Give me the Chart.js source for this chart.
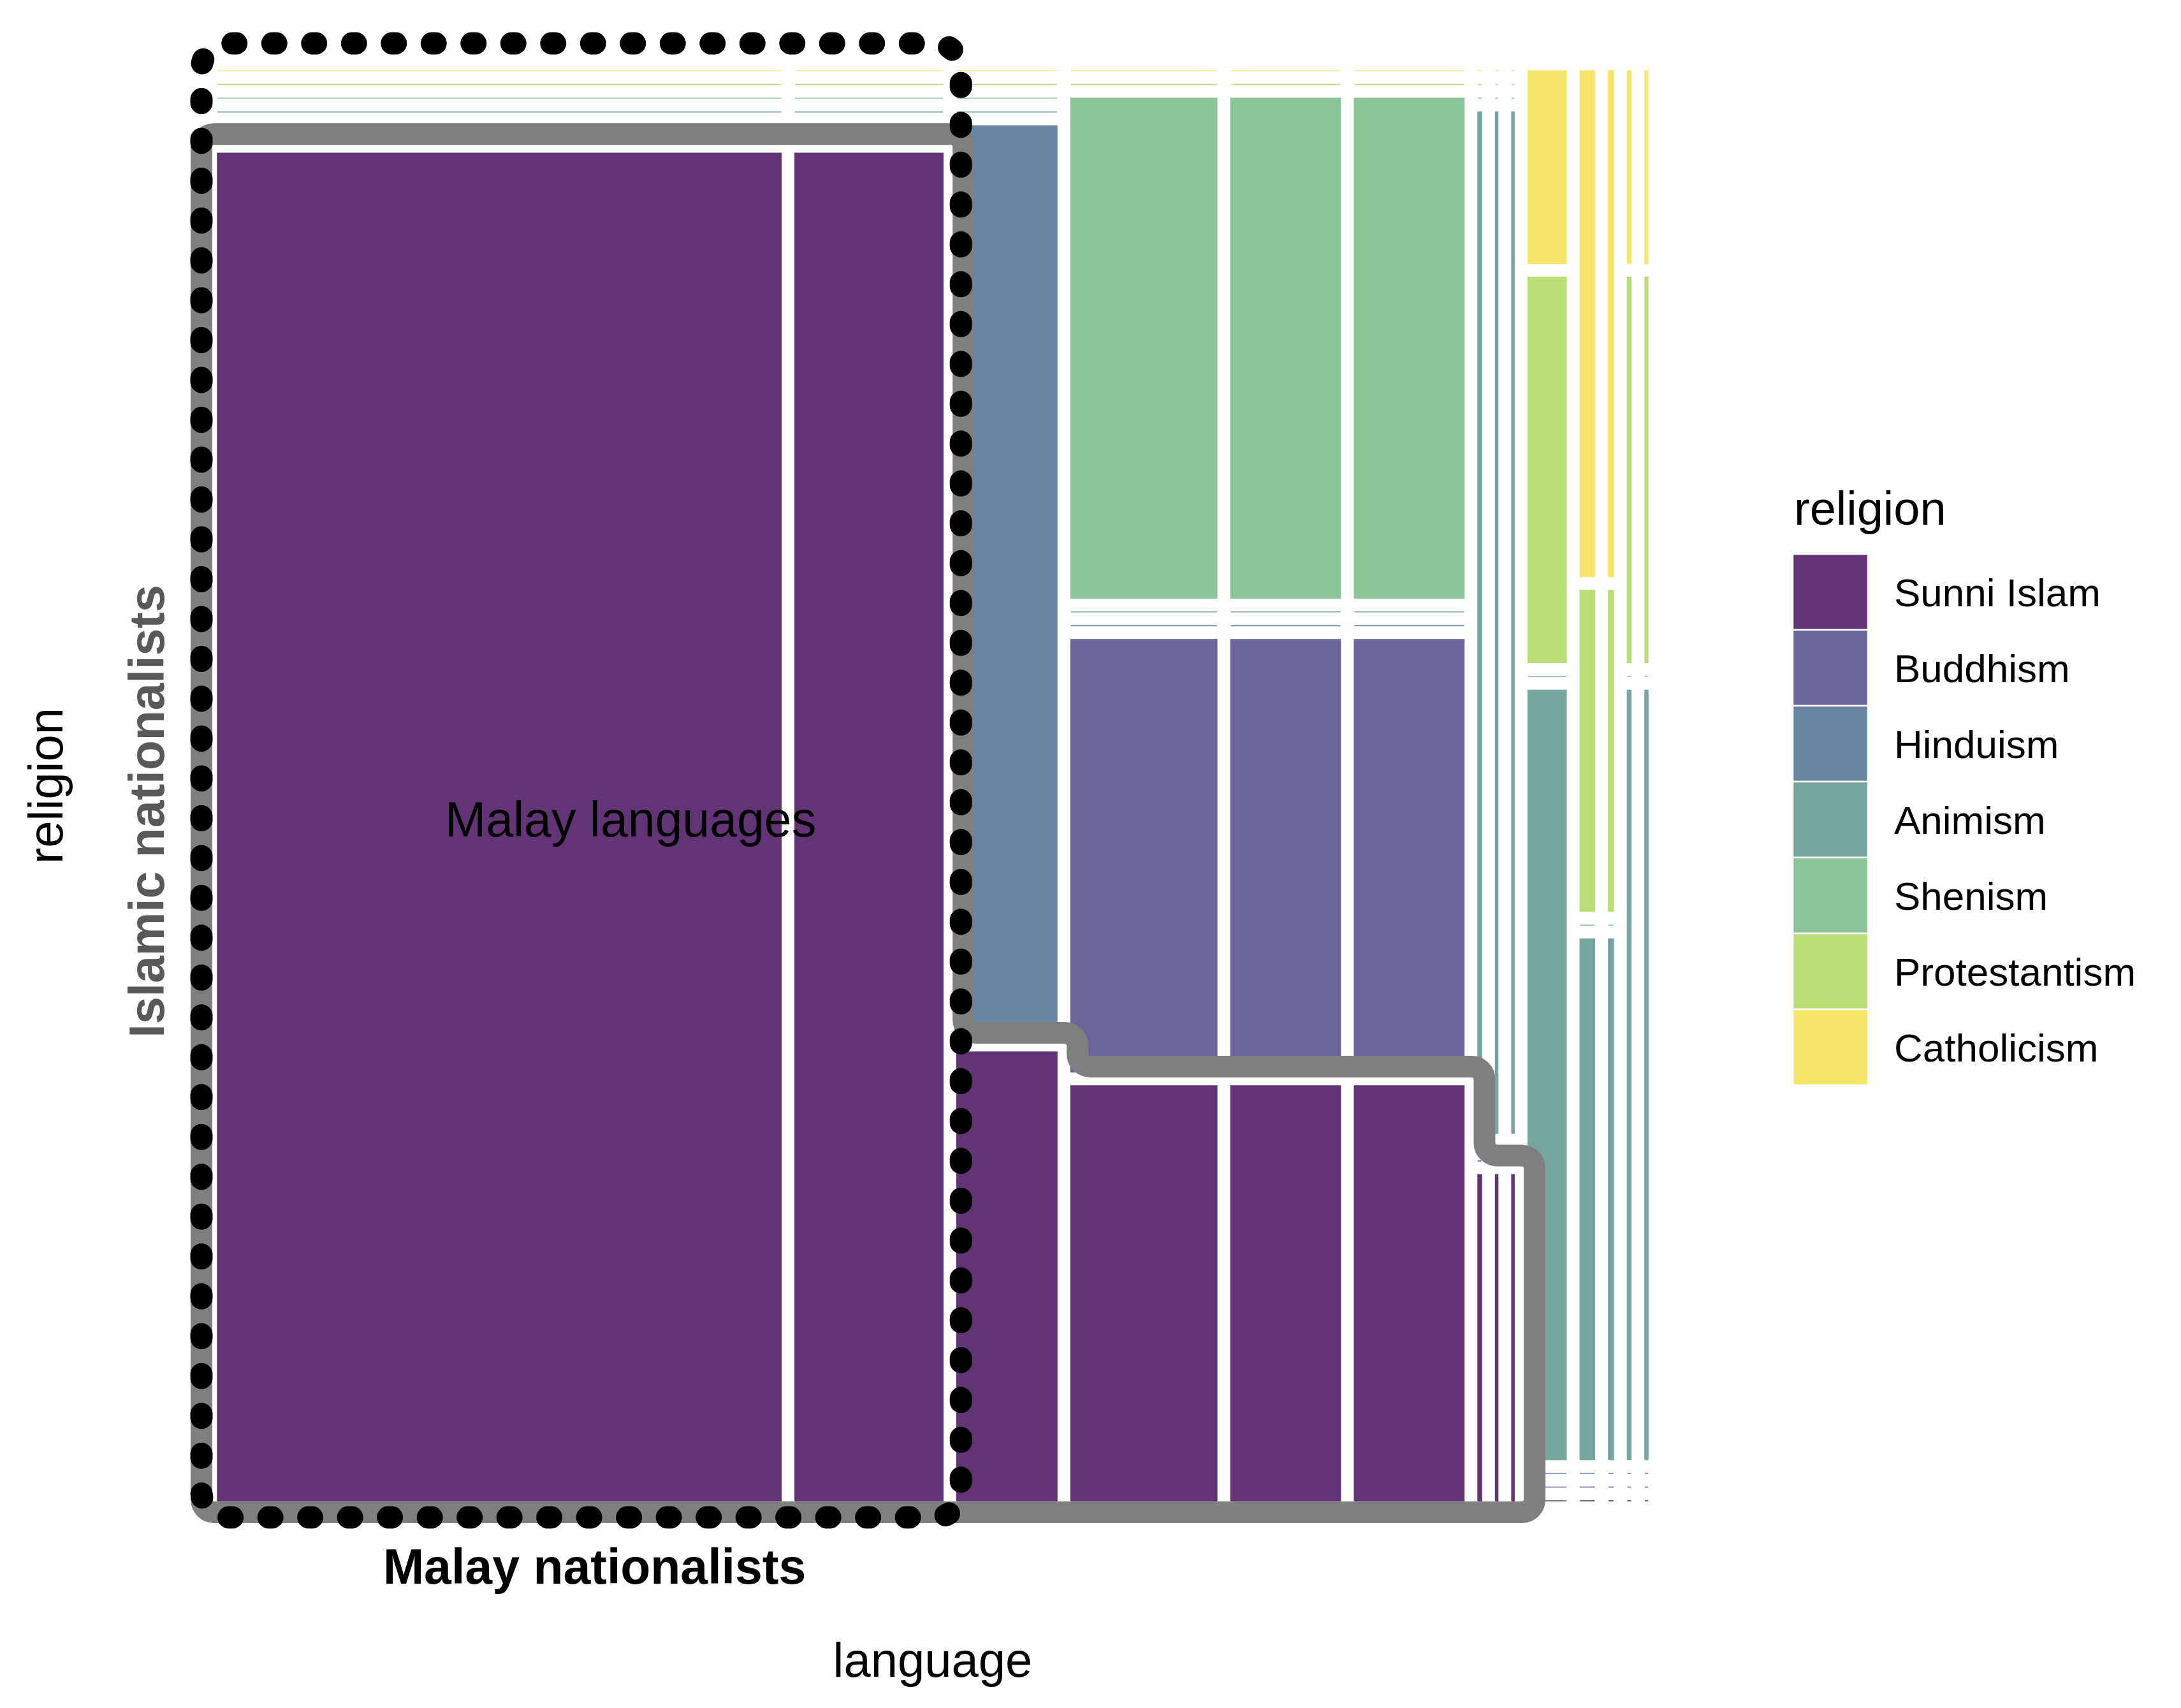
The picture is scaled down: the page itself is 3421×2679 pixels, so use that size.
<!DOCTYPE html>
<html>
<head>
<meta charset="utf-8">
<script src="https://cdn.jsdelivr.net/npm/chart.js@4.4.1/dist/chart.umd.min.js"></script>
<style>
  html, body { margin: 0; padding: 0; background: #ffffff; }
  canvas { display: block; }
</style>
</head>
<body>
<canvas id="mosaic" width="3421" height="2679" style="width:3421px;height:2679px"></canvas>
<script>
// columns of the mosaic (x = language, split into sub groups)
const languages = ['Malay languages', 'Malay languages', 'Tamil', 'Chinese', 'Chinese', 'Chinese',
  'Aslian', 'Aslian', 'Aslian', 'Bornean', 'Filipino', 'Filipino', 'Bornean', 'Bornean'];
const languageCounts = [883, 232, 157, 229, 172, 172, 6, 4, 4, 60, 23, 8, 6, 5];

// religion shares inside each column (%), bottom to top
const religions = ['Sunni Islam', 'Buddhism', 'Hinduism', 'Animism', 'Shenism', 'Protestantism', 'Catholicism'];
const sunniIslam    = [100, 100, 33.3, 30.8, 30.8, 30.8, 24.2, 24.2, 24.2, 0, 0, 0, 0, 0];
const buddhism      = [0, 0, 0, 32.1, 32.1, 32.1, 0, 0, 0, 0, 0, 0, 0, 0];
const hinduism      = [0, 0, 66.7, 0, 0, 0, 0, 0, 0, 0, 0, 0, 0, 0];
const animism       = [0, 0, 0, 0, 0, 0, 75.8, 75.8, 75.8, 57.1, 38.6, 38.6, 57.1, 57.1];
const shenism       = [0, 0, 0, 37.1, 37.1, 37.1, 0, 0, 0, 0, 0, 0, 0, 0];
const protestantism = [0, 0, 0, 0, 0, 0, 0, 0, 0, 28.6, 23.8, 23.8, 28.6, 28.6];
const catholicism   = [0, 0, 0, 0, 0, 0, 0, 0, 0, 14.3, 37.5, 37.5, 14.3, 14.3];

const religionColors = ['#623475', '#6A6699', '#6B86A3', '#77A5A0', '#8CC598', '#B9DE76', '#F6E76A'];

const FONT = '"Liberation Sans", Arial, Helvetica, sans-serif';
const spacing = 0.0096; // gap between tiles, as in ggmosaic

// build the tiles (polygons in data units 0..1)
const shares = [sunniIslam, buddhism, hinduism, animism, shenism, protestantism, catholicism];
const totalCount = languageCounts.reduce((a, b) => a + b, 0);
const widthLeft = 1 - spacing * (languageCounts.length - 1);
const heightLeft = 1 - spacing * (religions.length - 1);

const columns = [];
const datasets = [];
let x0 = 0;
languageCounts.forEach((count, i) => {
  const x1 = x0 + count / totalCount * widthLeft;
  const colTotal = shares.reduce((s, arr) => s + arr[i], 0);
  const col = { x0: x0, x1: x1, segs: [] };
  let y0 = 0;
  shares.forEach((arr, k) => {
    const y1 = y0 + arr[i] / colTotal * heightLeft;
    col.segs.push({ y0: y0, y1: y1 });
    if (arr[i] > 0) {
      datasets.push({
        label: religions[k],
        data: [{ x: x0, y: y0 }, { x: x1, y: y0 }, { x: x1, y: y1 }, { x: x0, y: y1 }, { x: x0, y: y0 }],
        fill: 'shape',
        backgroundColor: religionColors[k],
        borderColor: religionColors[k],
        borderWidth: 1.5
      });
    } else {
      // empty cell -> thin line
      datasets.push({
        label: religions[k],
        data: [{ x: x0, y: y0 }, { x: x1, y: y0 }],
        fill: false,
        borderColor: religionColors[k],
        borderWidth: 1.6
      });
    }
    y0 = y1 + spacing;
  });
  columns.push(col);
  x0 = x1 + spacing;
});

// rounded closed path through a list of points
function roundedPath(ctx, pts, r) {
  const n = pts.length;
  const last = pts[n - 1], first = pts[0];
  ctx.beginPath();
  ctx.moveTo((last[0] + first[0]) / 2, (last[1] + first[1]) / 2);
  for (let i = 0; i < n; i++) {
    const p = pts[i], q = pts[(i + 1) % n];
    ctx.arcTo(p[0], p[1], q[0], q[1], r);
  }
  ctx.closePath();
}

const overlayPlugin = {
  id: 'overlay',
  afterDatasetsDraw(chart) {
    const ctx = chart.ctx;
    const x = chart.scales.x, y = chart.scales.y;

    // grey outline round all Sunni Islam tiles
    const groups = [];
    columns.forEach((c) => {
      const s = c.segs[0];
      if (s.y1 - s.y0 <= 0) return;
      const g = groups[groups.length - 1];
      if (g && Math.abs(g.top - s.y1) < 1e-6) g.x1 = c.x1;
      else groups.push({ top: s.y1, x1: c.x1 });
    });
    const left = x.getPixelForValue(columns[0].x0) - 25;
    const bottom = y.getPixelForValue(0) + 18;
    const pts = [];
    groups.forEach((g, gi) => {
      const level = y.getPixelForValue(g.top) - 30;
      const right = x.getPixelForValue(g.x1) + 32;
      if (gi === 0) pts.push([left, level]);
      pts.push([right, level]);
      if (gi < groups.length - 1) pts.push([right, y.getPixelForValue(groups[gi + 1].top) - 30]);
      else pts.push([right, bottom]);
    });
    pts.push([left, bottom]);
    ctx.save();
    roundedPath(ctx, pts, 20);
    ctx.lineWidth = 34;
    ctx.strokeStyle = '#7F7F7F';
    ctx.lineJoin = 'round';
    ctx.stroke();
    ctx.restore();

    // dotted box round the Malay languages columns
    const mL = x.getPixelForValue(columns[0].x0) - 25;
    const mR = x.getPixelForValue(columns[1].x1) + 28;
    const mT = y.getPixelForValue(1) - 43;
    const mB = y.getPixelForValue(0) + 26;
    ctx.save();
    roundedPath(ctx, [[mL, mT], [mR, mT], [mR, mB], [mL, mB]], 40);
    ctx.lineWidth = 35;
    ctx.strokeStyle = '#000000';
    ctx.lineCap = 'round';
    ctx.setLineDash([6, 56.5]);
    ctx.stroke();
    ctx.restore();

    // labels
    ctx.save();
    ctx.fillStyle = '#000000';
    ctx.textAlign = 'center';
    ctx.textBaseline = 'alphabetic';
    ctx.font = '77px ' + FONT;
    ctx.fillText('Malay languages', x.getPixelForValue(0.2888), y.getPixelForValue(0.4645));
    ctx.font = 'bold 77px ' + FONT;
    ctx.fillText('Malay nationalists', (mL + mR) / 2 + 21, mB + 104);
    ctx.fillStyle = '#595959';
    ctx.translate(mL - 59, (chart.chartArea.top + chart.chartArea.bottom) / 2 + 40);
    ctx.rotate(-Math.PI / 2);
    ctx.fillText('Islamic nationalists', 0, 0);
    ctx.restore();
  },
  afterDraw(chart) {
    const ctx = chart.ctx;
    const area = chart.chartArea;
    ctx.save();
    ctx.fillStyle = '#000000';
    // axis titles
    ctx.font = '76px ' + FONT;
    ctx.textAlign = 'center';
    ctx.textBaseline = 'alphabetic';
    ctx.fillText('language', (area.left + area.right) / 2, 2630);
    ctx.save();
    ctx.translate(98, (area.top + area.bottom) / 2);
    ctx.rotate(-Math.PI / 2);
    ctx.fillText('religion', 0, 0);
    ctx.restore();

    // legend
    const lx = 2812, ly = 869, key = 119;
    ctx.textAlign = 'left';
    ctx.font = '74px ' + FONT;
    ctx.fillText('religion', lx + 2, 823);
    ctx.font = '62px ' + FONT;
    religions.forEach((r, k) => {
      const top = ly + k * key;
      ctx.fillStyle = religionColors[k];
      ctx.fillRect(lx, top, 118, key);
      ctx.strokeStyle = '#ffffff';
      ctx.lineWidth = 2.5;
      ctx.strokeRect(lx, top, 118, key);
      ctx.fillStyle = '#000000';
      ctx.fillText(r, 2971, top + key / 2 + 22);
    });
    ctx.restore();
  }
};

Chart.defaults.font.family = FONT;

new Chart(document.getElementById('mosaic'), {
  type: 'line',
  data: { datasets: datasets },
  options: {
    responsive: false,
    animation: false,
    devicePixelRatio: 1,
    events: [],
    layout: { padding: { left: 341, right: 836, top: 111, bottom: 325 } },
    elements: {
      point: { radius: 0 },
      line: { tension: 0 }
    },
    datasets: { line: { clip: false } },
    scales: {
      x: { type: 'linear', min: 0, max: 1, display: false },
      y: { type: 'linear', min: 0, max: 1, display: false }
    },
    plugins: {
      legend: { display: false },
      tooltip: { enabled: false }
    }
  },
  plugins: [overlayPlugin]
});
</script>
</body>
</html>
